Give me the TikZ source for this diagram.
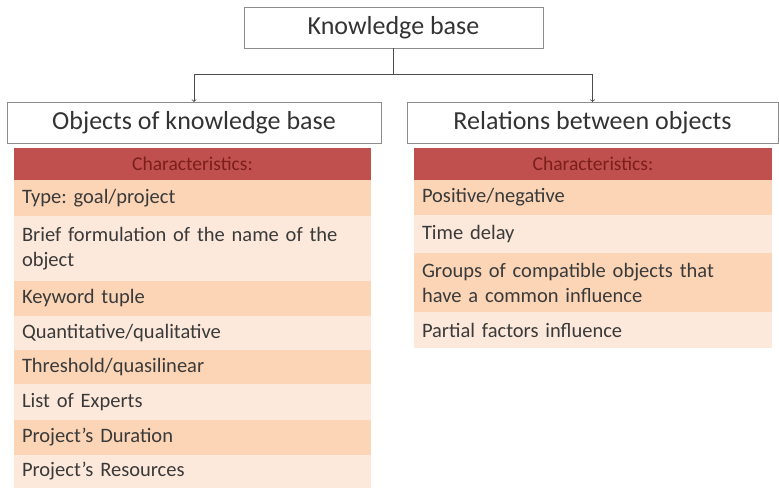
\documentclass[tikz,border=0pt]{standalone}
\usepackage{fontspec}
\setmainfont{Carlito}
\usetikzlibrary{positioning, calc}

\definecolor{boxgray}{HTML}{8C8C8C}
\definecolor{hdrred}{HTML}{C0504D}
\definecolor{hdrtext}{HTML}{7A1E1E}
\definecolor{rowdark}{HTML}{FBD5B6}
\definecolor{rowlight}{HTML}{FDE9DB}
\definecolor{bodytext}{HTML}{3A3A3A}

\begin{document}
\frenchspacing
\begin{tikzpicture}[
    x=1pt, y=-1pt,                    % <── one unit = one pixel of the page
    node distance=0pt,
    title_box/.style={draw=boxgray, line width=0.9pt, rectangle, minimum height=41pt,
        inner sep=0pt, outer sep=0pt, text=black!80, font=\fontsize{26}{28}\selectfont},
    head_row/.style={rectangle, fill=hdrred, text=hdrtext, minimum height=32pt,
        inner sep=0pt, outer sep=0pt, font=\fontsize{19.5}{22}\selectfont},
    item_row/.style={rectangle, text=bodytext, align=left, inner xsep=8pt, inner ysep=0pt,
        outer sep=0pt, font=\fontsize{20.5}{25}\selectfont},
    dark_row/.style={item_row, fill=rowdark},
    light_row/.style={item_row, fill=rowlight}
    ]
    \useasboundingbox (0,0) rectangle (779,488);

    % Title boxes
    \node[title_box, minimum width=299pt, anchor=north west] (kb) at (244,7) {Knowledge base};
    \node[title_box, minimum width=374pt, anchor=north west] (objs) at (7,102) {Objects of knowledge base};
    \node[title_box, minimum width=371pt, anchor=north west] (rels) at (407,102) {Relations between objects};

    % Left table
    \node[head_row, minimum width=357pt, anchor=north west] (lhead) at (14,148) {Characteristics:};
    \node[dark_row, text width=341pt, minimum height=36pt] (l1) [below=of lhead] {Type: goal/project};
    \node[light_row, text width=341pt, minimum height=65pt] (l2) [below=of l1] {Brief formulation of the name of the\\object};
    \node[dark_row, text width=341pt, minimum height=35pt] (l3) [below=of l2] {Keyword tuple};
    \node[light_row, text width=341pt, minimum height=34pt] (l4) [below=of l3] {Quantitative/qualitative};
    \node[dark_row, text width=341pt, minimum height=34pt] (l5) [below=of l4] {Threshold/quasilinear};
    \node[light_row, text width=341pt, minimum height=36pt] (l6) [below=of l5] {List of Experts};
    \node[dark_row, text width=341pt, minimum height=35pt] (l7) [below=of l6] {Project's Duration};
    \node[light_row, text width=341pt, minimum height=33pt] (l8) [below=of l7] {Project's Resources};

    % Right table
    \node[head_row, minimum width=358pt, anchor=north west] (rhead) at (414,148) {Characteristics:};
    \node[dark_row, text width=342pt, minimum height=35pt] (r1) [below=of rhead] {Positive/negative};
    \node[light_row, text width=342pt, minimum height=38pt] (r2) [below=of r1] {Time delay};
    \node[dark_row, text width=342pt, minimum height=59pt] (r3) [below=of r2] {Groups of compatible objects that\\have a common influence};
    \node[light_row, text width=342pt, minimum height=36pt] (r4) [below=of r3] {Partial factors influence};

    % Arrows
    \coordinate (split) at ($(kb.south)+(0,26)$);
    \draw[->, draw=black!70, line width=0.8pt] (kb.south) -- (split) -| (objs.north);
    \draw[->, draw=black!70, line width=0.8pt] (split) -| (rels.north);
\end{tikzpicture}
\end{document}
